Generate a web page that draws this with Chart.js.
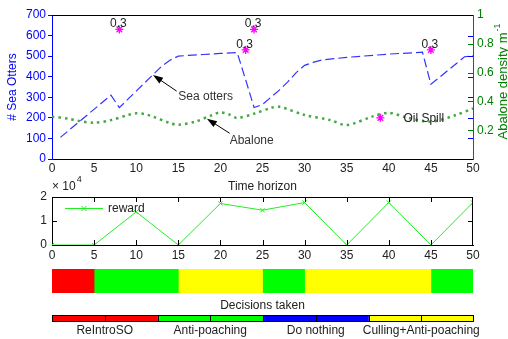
<!DOCTYPE html>
<html lang="en">
<head>
  <meta charset="UTF-8" />
  <title>Sea otters, abalone and decisions</title>
  <script src="https://cdn.jsdelivr.net/npm/chart.js"></script>
  <style>
    body { margin: 0; background: #fff; }
    #wrap { position: relative; width: 508px; height: 339px; background: #fff; overflow: hidden; }
    canvas { position: absolute; left: 0; }
  </style>
</head>
<body>
  <div id="wrap">
    <canvas id="topChart" width="508" height="196" style="top:0"></canvas>
    <canvas id="rewardChart" width="508" height="90" style="top:172px"></canvas>
    <canvas id="decisionChart" width="508" height="51" style="top:262px"></canvas>
    <canvas id="keyChart" width="508" height="29" style="top:310px"></canvas>
  </div>

  <script>
    // sea otter population (left axis)
    const otterTime  = [1, 7, 8, 12, 13, 14, 15, 16, 18, 20, 22, 23, 24, 25, 26, 27, 28, 29, 30, 31, 32, 35, 40, 44, 45, 46, 47, 48, 49, 50];
    const otterCount = [105, 310, 250, 410, 450, 480, 500, 503, 508, 513, 517, 385, 250, 265, 300, 335, 375, 420, 455, 470, 481, 494, 510, 519, 363, 396, 430, 463, 497, 502];

    // abalone density (right axis)
    const abaloneTime    = [0, 2, 3, 5, 7, 9, 10, 11, 12, 14, 15, 17, 19, 20, 21, 22, 24, 26, 27, 30, 33, 35, 38, 40, 42, 45, 48, 50];
    const abaloneDensity = [0.294, 0.28, 0.266, 0.252, 0.27, 0.305, 0.317, 0.312, 0.294, 0.25, 0.238, 0.259, 0.305, 0.324, 0.31, 0.285, 0.315, 0.355, 0.363, 0.306, 0.271, 0.236, 0.294, 0.321, 0.29, 0.259, 0.306, 0.352];

    // perturbation events (stars)
    const eventTime  = [8, 23, 24, 39, 45];
    const eventValue = [630, 530, 630, 200, 530];
    const eventLabel = ['0.3', '0.3', '0.3', 'Oil Spill', '0.3'];

    // reward per step
    const rewardTime  = [0, 5, 10, 15, 20, 25, 30, 35, 40, 45, 50];
    const rewardValue = [0, 0, 13800, 0, 17300, 14500, 17700, 0, 17700, 0, 17700];

    // decisions over time
    const decisionNames  = ['ReIntroSO', 'Anti-poaching', 'Do nothing', 'Culling+Anti-poaching'];
    const decisionStart  = [0, 5, 15, 25, 30, 45];
    const decisionEnd    = [5, 15, 25, 30, 45, 50];
    const decisionTaken  = [0, 1, 3, 1, 3, 1];

    // arrow notes (left axis units)
    const notes = [
      { text: 'Sea otters', tip: [12, 408], tail: [14.8, 330], at: [15, 301] },
      { text: 'Abalone', tip: [18.4, 196], tail: [21.1, 125], at: [21.1, 87] }
    ];

    const decisionColors = ['#ff0000', '#00ff00', '#0000ff', '#ffff00'];
    const BLUE = '#0000ff', GREEN = '#008000', TEXT = '#222';
    const FONT = '"Liberation Sans", Arial, sans-serif';

    Chart.defaults.font.family = FONT;
    Chart.defaults.font.size = 12;
    Chart.defaults.color = TEXT;

    const base = {
      responsive: false,
      animation: false,
      devicePixelRatio: 1,
      events: [],
      plugins: { legend: { display: false }, tooltip: { enabled: false } }
    };
    const noGrid = { display: false, drawTicks: false };

    function line(ctx, x0, y0, x1, y1) {
      ctx.beginPath(); ctx.moveTo(x0, y0); ctx.lineTo(x1, y1); ctx.stroke();
    }

    function arrow(ctx, x0, y0, x1, y1) {
      const a = Math.atan2(y1 - y0, x1 - x0), head = 10, half = 3.5;
      const c = Math.cos(a), s = Math.sin(a);
      line(ctx, x0, y0, x1 - head * 0.7 * c, y1 - head * 0.7 * s);
      ctx.beginPath();
      ctx.moveTo(x1, y1);
      ctx.lineTo(x1 - head * c + half * s, y1 - head * s - half * c);
      ctx.lineTo(x1 - head * c - half * s, y1 - head * s + half * c);
      ctx.closePath();
      ctx.fill();
    }

    // top chart extras: frame, inner ticks, labels, arrows, right title
    const topExtras = {
      id: 'topExtras',
      afterDraw(chart) {
        const { ctx, chartArea: a, scales: { x, y, y1 } } = chart;
        ctx.save();
        ctx.lineWidth = 1;
        ctx.strokeStyle = '#000';
        line(ctx, a.left, a.top + 0.5, a.right, a.top + 0.5);

        ctx.strokeStyle = BLUE;
        for (let v = 100; v < 700; v += 100) {
          const py = Math.round(y.getPixelForValue(v)) + 0.5;
          line(ctx, a.right - 5, py, a.right, py);
        }
        ctx.strokeStyle = GREEN;
        for (let v = 0.2; v < 0.9; v += 0.2) {
          const py = Math.round(y1.getPixelForValue(v)) + 0.5;
          line(ctx, a.right - 5, py, a.right, py);
        }

        ctx.font = '12px ' + FONT;
        ctx.fillStyle = TEXT;
        eventTime.forEach((t, i) => {
          const px = x.getPixelForValue(t), py = y.getPixelForValue(eventValue[i]);
          if (eventLabel[i] === 'Oil Spill') {
            ctx.textAlign = 'left'; ctx.textBaseline = 'middle';
            ctx.fillText(eventLabel[i], px + 23, py + 1);
          } else {
            ctx.textAlign = 'center'; ctx.textBaseline = 'alphabetic';
            ctx.fillText(eventLabel[i], px - 1, py - 2);
          }
        });

        ctx.fillStyle = '#000';
        ctx.strokeStyle = '#000';
        notes.forEach(n => {
          arrow(ctx, x.getPixelForValue(n.tail[0]), y.getPixelForValue(n.tail[1]),
                     x.getPixelForValue(n.tip[0]), y.getPixelForValue(n.tip[1]));
        });
        ctx.fillStyle = '#333';
        ctx.textAlign = 'left'; ctx.textBaseline = 'middle';
        notes.forEach(n => {
          ctx.fillText(n.text, x.getPixelForValue(n.at[0]), y.getPixelForValue(n.at[1]));
        });

        // right axis title, reads bottom to top
        ctx.translate(503, (a.top + a.bottom) / 2 - 5);
        ctx.rotate(-Math.PI / 2);
        ctx.fillStyle = GREEN;
        ctx.font = '13px ' + FONT;
        const main = 'Abalone density m';
        const w = ctx.measureText(main).width;
        ctx.textAlign = 'left'; ctx.textBaseline = 'middle';
        ctx.fillText(main, -(w + 8) / 2, 0);
        ctx.font = '9px ' + FONT;
        ctx.fillText('-1', -(w + 8) / 2 + w + 1, -5);
        ctx.restore();
      }
    };

    new Chart(document.getElementById('topChart'), {
      type: 'line',
      data: {
        datasets: [
          {
            label: 'Sea otters',
            data: otterTime.map((t, i) => ({ x: t, y: otterCount[i] })),
            yAxisID: 'y',
            borderColor: '#3333ff',
            borderWidth: 1.2,
            borderDash: [9, 4],
            pointRadius: 0,
            tension: 0
          },
          {
            label: 'Abalone',
            data: abaloneTime.map((t, i) => ({ x: t, y: abaloneDensity[i] })),
            yAxisID: 'y1',
            borderColor: '#44a844',
            borderWidth: 2.5,
            borderDash: [2.5, 4],
            pointRadius: 0,
            tension: 0.3
          },
          {
            label: 'Events',
            data: eventTime.map((t, i) => ({ x: t, y: eventValue[i] })),
            yAxisID: 'y',
            showLine: false,
            pointStyle: 'star',
            pointRadius: 4,
            pointBorderColor: '#ff00ff',
            pointBorderWidth: 1.3,
            borderColor: '#ff00ff'
          }
        ]
      },
      options: {
        ...base,
        layout: { padding: { top: 15, left: 0, right: 0, bottom: 0 } },
        scales: {
          x: {
            type: 'linear', min: 0, max: 50,
            ticks: { stepSize: 5, color: TEXT, padding: 2, maxRotation: 0 },
            grid: noGrid,
            border: { color: '#000' },
            title: { display: true, text: 'Time horizon', color: TEXT, padding: { top: 0, bottom: 2 } },
            afterFit: s => { s.height = 37; }
          },
          y: {
            position: 'left', min: 0, max: 700,
            ticks: { stepSize: 100, color: BLUE, padding: 2 },
            grid: { drawOnChartArea: false, color: BLUE, tickLength: 4 },
            border: { color: BLUE },
            title: { display: true, text: '# Sea Otters', color: BLUE, padding: { top: 5, bottom: 0 } },
            afterFit: s => { s.width = 52; }
          },
          y1: {
            position: 'right', min: 0, max: 1,
            ticks: {
              stepSize: 0.2, color: GREEN, padding: 4,
              callback: v => (v === 0 ? '' : String(Math.round(v * 10) / 10))
            },
            grid: noGrid,
            border: { color: GREEN },
            afterFit: s => { s.width = 35; }
          }
        }
      },
      plugins: [topExtras]
    });

    // reward chart extras: full frame, inner ticks, legend, exponent
    const rewardExtras = {
      id: 'rewardExtras',
      afterDraw(chart) {
        const { ctx, chartArea: a, scales: { x, y } } = chart;
        ctx.save();
        ctx.strokeStyle = '#000';
        ctx.lineWidth = 1;
        line(ctx, a.left, a.top + 0.5, a.right, a.top + 0.5);
        line(ctx, a.right - 0.5, a.top, a.right - 0.5, a.bottom);
        for (let t = 5; t < 50; t += 5) {
          const px = Math.round(x.getPixelForValue(t)) + 0.5;
          line(ctx, px, a.top, px, a.top + 5);
          line(ctx, px, a.bottom - 5, px, a.bottom);
        }
        const py = Math.round(y.getPixelForValue(10000)) + 0.5;
        line(ctx, a.left, py, a.left + 5, py);
        line(ctx, a.right - 5, py, a.right, py);

        // legend inside the axes
        const ds = chart.data.datasets[0];
        const ly = a.top + 11.5;
        ctx.strokeStyle = ds.borderColor;
        line(ctx, a.left + 13, ly, a.left + 51, ly);
        const mx = a.left + 32;
        line(ctx, mx - 2.5, ly - 2.5, mx + 2.5, ly + 2.5);
        line(ctx, mx - 2.5, ly + 2.5, mx + 2.5, ly - 2.5);
        ctx.fillStyle = TEXT;
        ctx.font = '12px ' + FONT;
        ctx.textAlign = 'left'; ctx.textBaseline = 'middle';
        ctx.fillText(ds.label, a.left + 56, ly);

        // scale factor
        ctx.textBaseline = 'alphabetic';
        ctx.fillText('\u00d7 10', a.left, a.top - 7);
        const w = ctx.measureText('\u00d7 10').width;
        ctx.font = '9px ' + FONT;
        ctx.fillText('4', a.left + w + 1, a.top - 15);
        ctx.restore();
      }
    };

    new Chart(document.getElementById('rewardChart'), {
      type: 'line',
      data: {
        datasets: [{
          label: 'reward',
          data: rewardTime.map((t, i) => ({ x: t, y: rewardValue[i] })),
          borderColor: '#22ee22',
          borderWidth: 1,
          pointStyle: 'crossRot',
          pointRadius: 3,
          pointBorderColor: '#22ee22',
          pointBorderWidth: 1,
          tension: 0
        }]
      },
      options: {
        ...base,
        layout: { padding: { top: 25, left: 0, right: 35, bottom: 0 } },
        scales: {
          x: {
            type: 'linear', min: 0, max: 50,
            ticks: { stepSize: 5, color: TEXT, padding: 3, maxRotation: 0 },
            grid: noGrid,
            border: { color: '#000' },
            afterFit: s => { s.height = 17; }
          },
          y: {
            min: 0, max: 20000,
            ticks: { stepSize: 10000, color: TEXT, padding: 5, callback: v => String(v / 10000) },
            grid: noGrid,
            border: { color: '#000' },
            afterFit: s => { s.width = 52; }
          }
        }
      },
      plugins: [rewardExtras]
    });

    // decisions strip
    new Chart(document.getElementById('decisionChart'), {
      type: 'bar',
      data: {
        labels: ['Decisions'],
        datasets: decisionStart.map((s, i) => ({
          label: decisionNames[decisionTaken[i]],
          data: [[s, decisionEnd[i]]],
          backgroundColor: decisionColors[decisionTaken[i]],
          borderWidth: 0,
          barPercentage: 1,
          categoryPercentage: 1,
          grouped: false
        }))
      },
      options: {
        ...base,
        indexAxis: 'y',
        layout: { padding: { top: 7, left: 52, right: 35, bottom: 0 } },
        scales: {
          x: {
            min: 0, max: 50,
            grid: noGrid,
            border: { display: false },
            ticks: { display: false },
            title: { display: true, text: 'Decisions taken', color: TEXT, padding: { top: 0, bottom: 0 } },
            afterFit: s => { s.height = 20; }
          },
          y: { display: false }
        }
      }
    });

    // colour key for the decisions
    const keyFrame = {
      id: 'keyFrame',
      afterDraw(chart) {
        const { ctx, chartArea: a, scales: { x } } = chart;
        ctx.save();
        ctx.strokeStyle = '#000';
        ctx.lineWidth = 1;
        ctx.strokeRect(a.left + 0.5, a.top + 0.5, a.right - a.left - 1, a.bottom - a.top);
        line(ctx, a.left, a.bottom + 0.5, a.right, a.bottom + 0.5);
        for (let v = 0.5; v < 4; v += 0.5) {
          const px = Math.round(x.getPixelForValue(v)) + 0.5;
          line(ctx, px, a.top, px, a.top + 3);
          line(ctx, px, a.bottom - 3, px, a.bottom);
        }
        ctx.restore();
      }
    };

    new Chart(document.getElementById('keyChart'), {
      type: 'bar',
      data: {
        labels: ['Key'],
        datasets: decisionNames.map((n, i) => ({
          label: n,
          data: [[i, i + 1]],
          backgroundColor: decisionColors[i],
          borderWidth: 0,
          barPercentage: 1,
          categoryPercentage: 1,
          grouped: false
        }))
      },
      options: {
        ...base,
        indexAxis: 'y',
        layout: { padding: { top: 5, left: 52, right: 34, bottom: 0 } },
        scales: {
          x: {
            min: 0, max: 4,
            grid: noGrid,
            border: { display: false },
            ticks: {
              stepSize: 0.5, autoSkip: false, maxRotation: 0, color: TEXT, padding: 2,
              callback: v => (Math.abs(v % 1 - 0.5) < 1e-6 ? decisionNames[Math.floor(v)] : '')
            },
            afterFit: s => { s.height = 18; }
          },
          y: { display: false }
        }
      },
      plugins: [keyFrame]
    });
  </script>
</body>
</html>
